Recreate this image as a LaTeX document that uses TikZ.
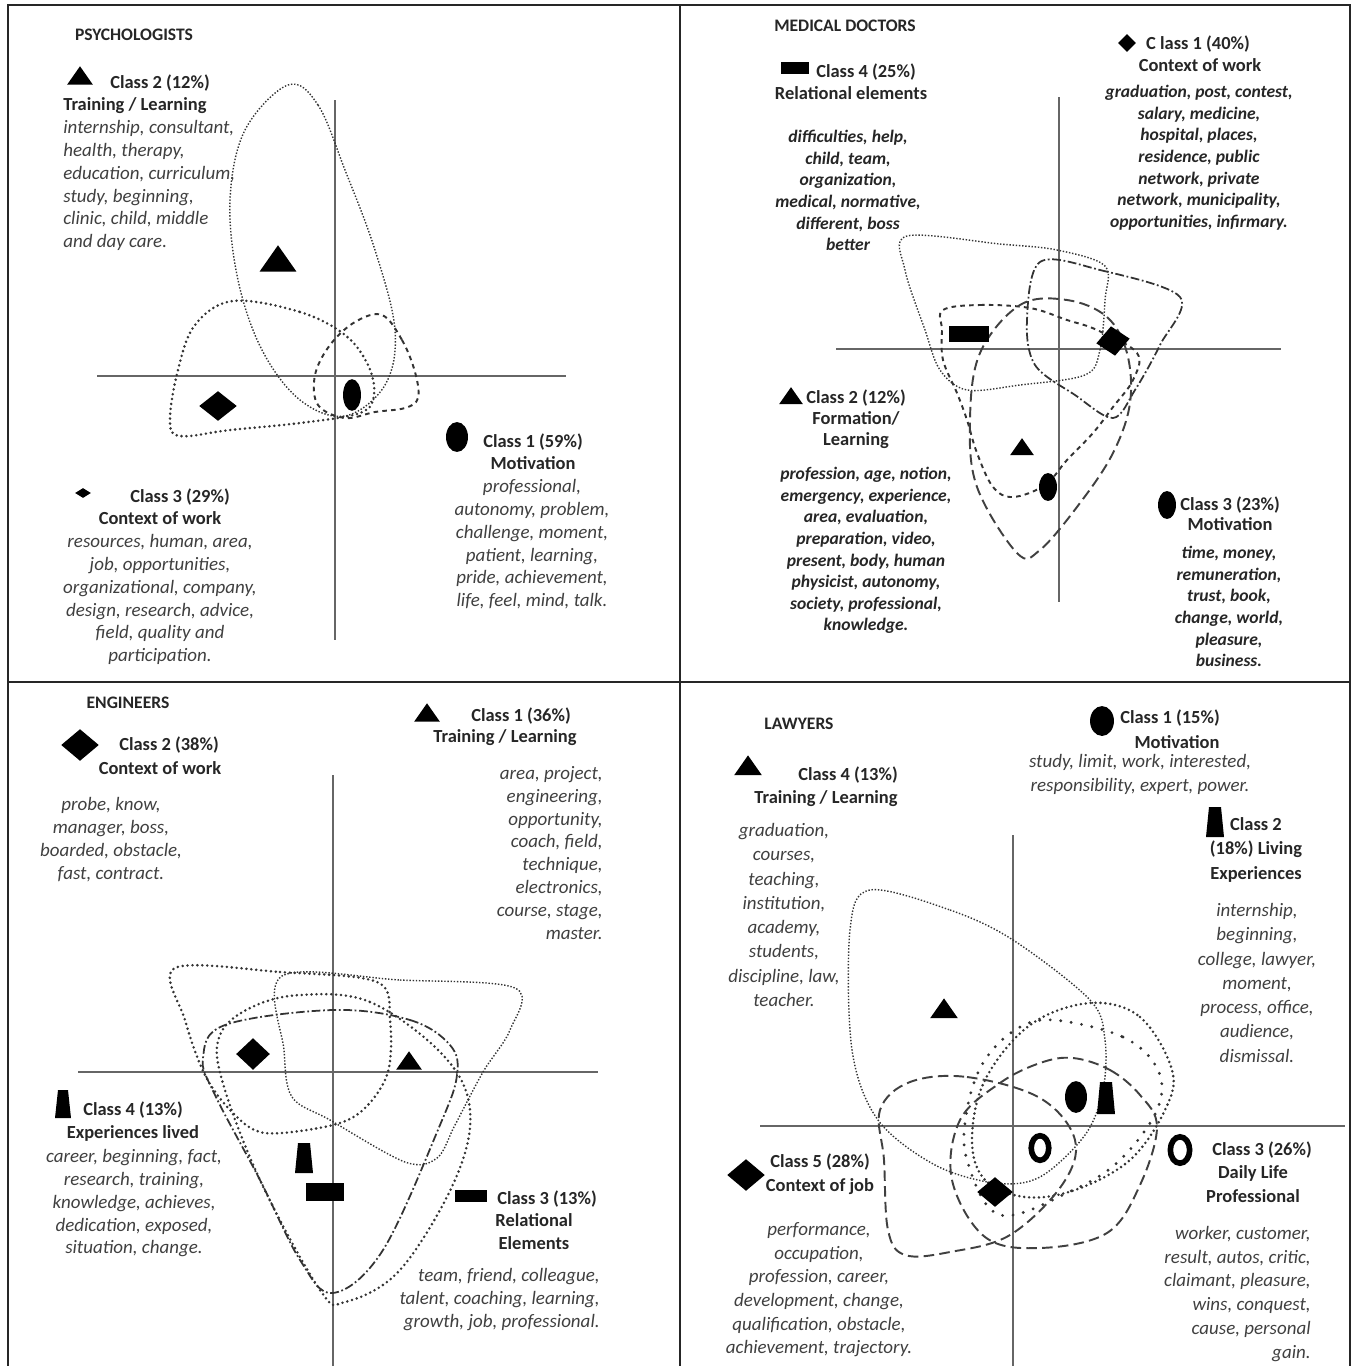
\documentclass[tikz,border=0pt]{standalone}
\usepackage{fontspec}
\setmainfont{Carlito}
\usetikzlibrary{shapes.geometric}

\begin{document}
\begin{tikzpicture}[x=0.02cm, y=-0.02cm,
  title/.style={inner sep=0pt, text=black!85, font=\fontsize{10}{12}\selectfont\bfseries},
  hd/.style={inner sep=0pt, text=black!85, align=center, font=\fontsize{10.5}{13}\selectfont\bfseries},
  words/.style={inner sep=0pt, text=black!75, align=center, font=\fontsize{10.8}{13}\selectfont\itshape},
  wordsb/.style={inner sep=0pt, text=black!85, align=center, font=\fontsize{10}{12.3}\selectfont\bfseries\itshape},
  wordsl/.style={inner sep=0pt, text=black!75, align=center, font=\fontsize{10.8}{13.8}\selectfont\itshape},
  tri/.style={isosceles triangle, isosceles triangle apex angle=70, shape border rotate=90, fill=black, inner sep=0pt, minimum size=#1},
  dia/.style 2 args={diamond, fill=black, inner sep=0pt, minimum width=#1, minimum height=#2},
  ell/.style 2 args={ellipse, fill=black, inner sep=0pt, minimum width=#1, minimum height=#2},
  box/.style 2 args={rectangle, fill=black, inner sep=0pt, minimum width=#1, minimum height=#2},
  ring/.style 2 args={ellipse, draw=black, line width=3.2pt, inner sep=0pt, minimum width=#1, minimum height=#2},
  frame/.style={black!85, line width=0.8pt},
  axis/.style={black!60, line width=0.7pt},
  fdot/.style={black!80, line width=0.8pt, dash pattern=on 0.8pt off 1pt},
  dots/.style={black!80, line width=1.6pt, line cap=round, dash pattern=on 0pt off 2.8pt},
  sdash/.style={black!80, line width=1.1pt, dash pattern=on 2.6pt off 2.4pt},
  ldash/.style={black!75, line width=1.1pt, dash pattern=on 6pt off 3pt},
  ddash/.style={black!80, line width=1pt, dash pattern=on 5pt off 1.5pt on 1pt off 1.5pt},
  sparse/.style={black!80, line width=1.8pt, line cap=round, dash pattern=on 0pt off 6pt}]

\useasboundingbox (0,0) rectangle (1352,1366);

% frame
\draw[frame] (8,1366) -- (8,5) -- (1350,5) -- (1350,1366);
\draw[frame] (680,5) -- (680,1366);
\draw[frame] (8,682) -- (1350,682);

% ---------- psychologists
\node[title] (t1) at (134,35) {PSYCHOLOGISTS};
\draw[axis] (335,100) -- (335,640);
\draw[axis] (97,376) -- (566,376);
\draw[fdot] plot[smooth cycle, tension=0.6] coordinates {(288,85) (318,105) (345,170) (375,250) (395,330) (385,385) (345,416) (300,400) (262,350) (238,280) (230,200) (245,130)};
\draw[dots] plot[smooth cycle, tension=0.6] coordinates {(233,301) (300,312) (345,335) (368,365) (374,395) (360,413) (300,423) (230,430) (180,436) (170,420) (178,370) (195,325)};
\draw[sdash] plot[smooth cycle, tension=0.6] coordinates {(382,315) (402,340) (415,372) (418,398) (405,408) (375,412) (345,418) (318,405) (315,375) (330,345) (355,322)};
\node[tri=15pt] (mtri-a) at (278,262) {};
\node[dia={21.5pt}{17pt}] (mdia-a) at (218,406) {};
\node[ell={10.2pt}{18pt}] (mell-a) at (352,395) {};

\node[tri=10.5pt] (ltri-a) at (80,78) {};
\node[hd] (c2a) at (160,83) {Class 2 (12\%)};
\node[hd, anchor=north west] (h2a) at (63,97) {Training / Learning};
\node[words, align=left, anchor=north west] (w2a) at (63,120) {internship, consultant,\\health, therapy,\\education, curriculum,\\study, beginning,\\clinic, child, middle\\and day care.};

\node[ell={12.5pt}{17pt}] (lell-a) at (457,437) {};
\node[hd] (c1a) at (533,442) {Class 1 (59\%)};
\node[hd, anchor=north] (h1a) at (533,456) {Motivation};
\node[words, anchor=north] (w1a) at (532,479) {professional,\\autonomy, problem,\\challenge, moment,\\patient, learning,\\pride, achievement,\\life, feel, mind, talk.};

\node[dia={9.1pt}{5.7pt}] (ldia-a) at (83,493) {};
\node[hd] (c3a) at (180,497) {Class 3 (29\%)};
\node[hd, anchor=north] (h3a) at (160,511) {Context of work};
\node[words, anchor=north] (w3a) at (160,534) {resources, human, area,\\job, opportunities,\\organizational, company,\\design, research, advice,\\field, quality and\\participation.};

% ---------- medical doctors
\node[title] (t2) at (845,26) {MEDICAL DOCTORS};
\draw[axis] (1059,97) -- (1059,602);
\draw[axis] (836,349) -- (1281,349);
\draw[fdot] plot[smooth cycle, tension=0.55] coordinates {(907,236) (1000,244) (1057,250) (1105,266) (1105,300) (1100,350) (1085,375) (1020,385) (967,390) (940,370) (925,330) (905,270)};
\draw[ddash] plot[smooth cycle, tension=0.55] coordinates {(1040,262) (1100,270) (1180,297) (1160,345) (1135,390) (1113,418) (1075,395) (1035,365) (1027,320)};
\draw[sdash] plot[smooth cycle, tension=0.6] coordinates {(943,310) (980,305) (1030,308) (1067,320) (1097,330) (1137,353) (1133,380) (1113,407) (1093,433) (1067,460) (1045,485) (1013,497) (993,487) (977,453) (967,420) (957,393) (943,360) (942,330)};
\draw[ldash] plot[smooth cycle, tension=0.6] coordinates {(1067,300) (1107,317) (1127,353) (1130,403) (1113,453) (1080,503) (1040,550) (1017,553) (977,487) (970,420) (980,353) (1020,305)};
\node[box={22.7pt}{9.1pt}] (mbox-b) at (969,334) {};
\node[dia={19.3pt}{17pt}, rotate=8] (mdia-b) at (1113,341) {};
\node[tri=9.7pt] (mtri-b) at (1022,449) {};
\node[ell={10.2pt}{15.9pt}] (mell-b) at (1048,487) {};

\node[box={15.9pt}{6.8pt}] (lbox-b) at (795,68) {};
\node[hd] (c4b) at (866,72) {Class 4 (25\%)};
\node[hd] (h4b) at (851,93) {Relational elements};
\node[wordsb, anchor=north] (w4b) at (848,130) {difficulties, help,\\child, team,\\organization,\\medical, normative,\\different, boss\\better};

\node[dia={10.2pt}{10.2pt}] (ldia-b) at (1127,43) {};
\node[hd] (c1b) at (1198,44) {C lass 1 (40\%)};
\node[hd] (h1b) at (1200,65) {Context of work};
\node[wordsb, anchor=north] (w1b) at (1199,85) {graduation, post, contest,\\salary, medicine,\\hospital, places,\\residence, public\\network, private\\network, municipality,\\opportunities, infirmary.};

\node[tri=9.7pt] (ltri-b) at (791,398) {};
\node[hd, anchor=north, font=\fontsize{10.5}{12.2}\selectfont\bfseries] (c2b) at (856,389) {Class 2 (12\%)\\Formation/\\Learning};
\node[wordsb, anchor=north] (w2b) at (866,467) {profession, age, notion,\\emergency, experience,\\area, evaluation,\\preparation, video,\\present, body, human\\physicist, autonomy,\\society, professional,\\knowledge.};

\node[ell={10.2pt}{15.9pt}] (lell-b) at (1167,505) {};
\node[hd, anchor=north, font=\fontsize{10.5}{11.5}\selectfont\bfseries] (c3b) at (1230,496) {Class 3 (23\%)\\Motivation};
\node[wordsb, anchor=north] (w3b) at (1229,546) {time, money,\\remuneration,\\trust, book,\\change, world,\\pleasure,\\business.};

% ---------- engineers
\node[title] (t3) at (128,703) {ENGINEERS};
\draw[axis] (333,775) -- (333,1366);
\draw[axis] (78,1072) -- (598,1072);
\draw[dots] plot[smooth cycle, tension=0.55] coordinates {(175,968) (280,972) (377,982) (390,1020) (388,1072) (365,1108) (333,1125) (265,1133) (232,1112) (205,1075) (185,1020)};
\draw[fdot] plot[smooth cycle, tension=0.55] coordinates {(282,976) (400,980) (515,988) (510,1030) (483,1072) (455,1125) (437,1158) (405,1162) (330,1120) (292,1097) (284,1050)};
\draw[ddash] plot[smooth cycle, tension=0.6] coordinates {(333,1010) (410,1020) (450,1045) (457,1075) (440,1125) (383,1250) (333,1293) (300,1260) (260,1180) (215,1095) (203,1058) (225,1025)};
\draw[dots] plot[smooth cycle, tension=0.6] coordinates {(300,995) (370,1002) (443,1055) (470,1110) (455,1180) (400,1270) (345,1302) (320,1290) (260,1180) (222,1080) (220,1035) (250,1008)};
\node[dia={19.3pt}{18.1pt}] (mdia-c) at (253,1054) {};
\node[tri=10.5pt] (mtri-c) at (409,1063) {};
\coordinate (mtrap-c) at (304,1158);
\fill ([shift={(-9,15)}]mtrap-c) -- ([shift={(9,15)}]mtrap-c) -- ([shift={(6,-15)}]mtrap-c) -- ([shift={(-6,-15)}]mtrap-c) -- cycle;
\node[box={21.5pt}{10.2pt}] (mbox-c) at (325,1192) {};

\node[dia={21.5pt}{18.1pt}] (ldia-c) at (80,745) {};
\node[hd] (c2c) at (169,745) {Class 2 (38\%)};
\node[hd] (h2c) at (160,768) {Context of work};
\node[words, anchor=north] (w2c) at (111,797) {probe, know,\\manager, boss,\\boarded, obstacle,\\fast, contract.};

\node[tri=10.5pt] (ltri-c) at (427,715) {};
\node[hd] (c1c) at (521,716) {Class 1 (36\%)};
\node[hd] (h1c) at (505,738) {Training / Learning};
\node[words, align=right, anchor=north east] (w1c) at (603,766) {area, project,\\engineering,\\opportunity,\\coach, field,\\technique,\\electronics,\\course, stage,\\master.};

\coordinate (ltrap-c) at (63,1104);
\fill ([shift={(-8,14)}]ltrap-c) -- ([shift={(8,14)}]ltrap-c) -- ([shift={(5,-14)}]ltrap-c) -- ([shift={(-5,-14)}]ltrap-c) -- cycle;
\node[hd] (c4c) at (133,1110) {Class 4 (13\%)};
\node[hd] (h4c) at (133,1133) {Experiences lived};
\node[words, anchor=north] (w4c) at (134,1149) {career, beginning, fact,\\research, training,\\knowledge, achieves,\\dedication, exposed,\\situation, change.};

\node[box={18.1pt}{6.8pt}] (lbox-c) at (471,1196) {};
\node[hd] (c3c) at (547,1199) {Class 3 (13\%)};
\node[hd, anchor=north] (h3c) at (534,1213) {Relational\\Elements};
\node[words, align=right, anchor=north east] (w3c) at (600,1268) {team, friend, colleague,\\talent, coaching, learning,\\growth, job, professional.};

% ---------- lawyers
\node[title] (t4) at (799,724) {LAWYERS};
\draw[axis] (1013,835) -- (1013,1366);
\draw[axis] (760,1126) -- (1345,1126);
\draw[fdot] plot[smooth cycle, tension=0.55] coordinates {(870,890) (950,910) (1013,940) (1090,1000) (1105,1040) (1103,1090) (1085,1135) (1040,1177) (995,1183) (935,1165) (878,1120) (852,1050) (850,930)};
\draw[dots] plot[smooth cycle, tension=0.6] coordinates {(1090,1003) (1140,1017) (1172,1070) (1165,1110) (1130,1160) (1075,1190) (1025,1197) (985,1180) (972,1140) (985,1080) (1030,1025)};
\draw[sparse] plot[smooth cycle, tension=0.6] coordinates {(1053,1020) (1123,1037) (1158,1070) (1157,1110) (1120,1160) (1073,1190) (1000,1215) (967,1160) (967,1110) (983,1063) (1015,1030)};
\draw[ldash] plot[smooth cycle, tension=0.6] coordinates {(910,1082) (967,1077) (1040,1098) (1075,1140) (1062,1185) (1010,1235) (950,1252) (905,1255) (888,1230) (884,1160) (880,1110)};
\draw[ldash] plot[smooth cycle, tension=0.6] coordinates {(1073,1058) (1110,1070) (1140,1095) (1157,1127) (1140,1185) (1107,1233) (1040,1248) (985,1237) (952,1180) (960,1120) (1000,1083) (1040,1063)};
\node[tri=11.3pt] (mtri-d) at (944,1011) {};
\node[ell={12.5pt}{18.1pt}] (mell-d) at (1076,1097) {};
\coordinate (mtrap-d) at (1106,1098);
\fill ([shift={(-9,16)}]mtrap-d) -- ([shift={(9,16)}]mtrap-d) -- ([shift={(6,-16)}]mtrap-d) -- ([shift={(-6,-16)}]mtrap-d) -- cycle;
\node[ring={10pt}{14pt}] (mring-d) at (1040,1148) {};
\node[dia={20.4pt}{17pt}] (mdia-d) at (995,1192) {};

\node[tri=11.3pt] (ltri-d) at (748,768) {};
\node[hd] (c4d) at (848,775) {Class 4 (13\%)};
\node[hd] (h4d) at (826,799) {Training / Learning};
\node[wordsl, anchor=north] (w4d) at (784,823) {graduation,\\courses,\\teaching,\\institution,\\academy,\\students,\\discipline, law,\\teacher.};

\node[ell={13.6pt}{17pt}] (lell-d) at (1102,721) {};
\node[hd] (c1d) at (1170,718) {Class 1 (15\%)};
\node[hd] (h1d) at (1177,742) {Motivation};
\node[wordsl, anchor=north] (w1d) at (1140,754) {study, limit, work, interested,\\responsibility, expert, power.};

\coordinate (ltrap-d) at (1215,822);
\fill ([shift={(-9,15)}]ltrap-d) -- ([shift={(9,15)}]ltrap-d) -- ([shift={(6,-15)}]ltrap-d) -- ([shift={(-6,-15)}]ltrap-d) -- cycle;
\node[hd, anchor=north, font=\fontsize{10.5}{13.9}\selectfont\bfseries] (c2d) at (1256,817) {Class 2\\(18\%) Living\\Experiences};
\node[wordsl, anchor=north] (w2d) at (1257,903) {internship,\\beginning,\\college, lawyer,\\moment,\\process, office,\\audience,\\dismissal.};

\node[ring={11pt}{15pt}] (lring-d) at (1180,1150) {};
\node[hd] (c3d) at (1262,1150) {Class 3 (26\%)};
\node[hd, anchor=north, font=\fontsize{10.5}{13.9}\selectfont\bfseries] (h3d) at (1253,1165) {Daily Life\\Professional};
\node[wordsl, align=right, anchor=north east, font=\fontsize{10.8}{13.5}\selectfont\itshape] (w3d) at (1311,1226) {worker, customer,\\result, autos, critic,\\claimant, pleasure,\\wins, conquest,\\cause, personal\\gain.};

\node[dia={21.5pt}{18.1pt}] (ldia-d) at (746,1175) {};
\node[hd, anchor=north, font=\fontsize{10.5}{13.9}\selectfont\bfseries] (c5d) at (820,1153) {Class 5 (28\%)\\Context of job};
\node[wordsl, anchor=north, font=\fontsize{10.8}{13.5}\selectfont\itshape] (w5d) at (819,1222) {performance,\\occupation,\\profession, career,\\development, change,\\qualification, obstacle,\\achievement, trajectory.};
\end{tikzpicture}
\end{document}
